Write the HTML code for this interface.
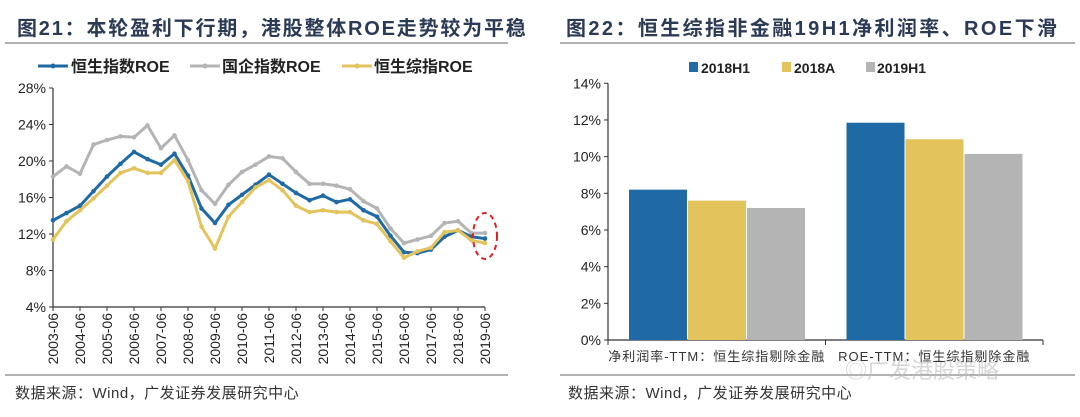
<!DOCTYPE html>
<html><head><meta charset="utf-8">
<style>
body{margin:0;background:#fff;width:1080px;height:417px;overflow:hidden}
svg{display:block;font-family:"Liberation Sans","Noto Sans CJK SC",sans-serif}
</style></head>
<body>
<svg id="root" width="1080" height="417" viewBox="0 0 1080 417">
<g>
 <text x="17" y="35" font-size="20" fill="#2b3a55" font-weight="bold" letter-spacing="1.8">图21：本轮盈利下行期，港股整体ROE走势较为平稳</text>
 <line x1="5" y1="43" x2="508" y2="43" stroke="#999" stroke-width="1.5"/>
 <line x1="5" y1="375" x2="508" y2="375" stroke="#999" stroke-width="1.5"/>
 <text x="15" y="398" font-size="15" fill="#333" letter-spacing="0.5">数据来源：Wind，广发证券发展研究中心</text>
 <g>
  <g><line x1="38" y1="66" x2="68" y2="66" stroke="#1f6aa5" stroke-width="3"/><circle cx="53" cy="66" r="2.5" fill="#1f6aa5"/><text x="71" y="72" font-size="16" font-weight="bold" fill="#222">恒生指数ROE</text></g>
  <g><line x1="190" y1="66" x2="220" y2="66" stroke="#b4b4b4" stroke-width="3"/><circle cx="205" cy="66" r="2.5" fill="#b4b4b4"/><text x="222" y="72" font-size="16" font-weight="bold" fill="#222">国企指数ROE</text></g>
  <g><line x1="342" y1="66" x2="372" y2="66" stroke="#e2c35c" stroke-width="3"/><circle cx="357" cy="66" r="2.5" fill="#e2c35c"/><text x="374" y="72" font-size="16" font-weight="bold" fill="#222">恒生综指ROE</text></g>
 </g>
 <g id="lc"></g>
 <ellipse cx="485" cy="236" rx="12" ry="23" fill="none" stroke="#e02020" stroke-width="2" stroke-dasharray="5,4"/>
</g>
<g>
 <text x="566" y="35" font-size="20" fill="#2b3a55" font-weight="bold" letter-spacing="2.4">图22：恒生综指非金融19H1净利润率、ROE下滑</text>
 <line x1="560" y1="43" x2="1075" y2="43" stroke="#999" stroke-width="1.5"/>
 <line x1="560" y1="375" x2="1075" y2="375" stroke="#999" stroke-width="1.5"/>
 <text x="568" y="398" font-size="15" fill="#333" letter-spacing="0.5">数据来源：Wind，广发证券发展研究中心</text>
 <text x="845" y="378" font-size="22" fill="#bbb" opacity="0.6">◎广发港股策略</text>
 <g>
  <g><rect x="689" y="62" width="9" height="10" fill="#1f6aa5"/><text x="701" y="73" font-size="14" font-weight="bold" fill="#222">2018H1</text></g>
  <g><rect x="782" y="62" width="9" height="10" fill="#e2c35c"/><text x="794" y="73" font-size="14" font-weight="bold" fill="#222">2018A</text></g>
  <g><rect x="866" y="62" width="9" height="10" fill="#b4b4b4"/><text x="877" y="73" font-size="14" font-weight="bold" fill="#222">2019H1</text></g>
 </g>
 <g id="bc"></g>
</g>
</svg>
<script>
const years=["2003-06","2004-06","2005-06","2006-06","2007-06","2008-06","2009-06","2010-06","2011-06","2012-06","2013-06","2014-06","2015-06","2016-06","2017-06","2018-06","2019-06"];
const yTicks=[4,8,12,16,20,24,28];
const hsi=[13.5,14.3,15.1,16.7,18.3,19.7,21.0,20.2,19.6,20.8,18.4,14.8,13.2,15.2,16.3,17.4,18.5,17.5,16.5,15.7,16.2,15.5,15.8,14.6,13.9,11.8,10.0,9.9,10.3,11.7,12.4,11.7,11.5];
const hscei=[18.3,19.4,18.6,21.8,22.3,22.7,22.6,23.9,21.4,22.8,20.1,16.8,15.3,17.4,18.8,19.6,20.5,20.3,18.8,17.5,17.5,17.3,16.9,15.6,14.8,12.6,11.0,11.4,11.8,13.2,13.4,12.1,12.1];
const hsci=[11.4,13.4,14.6,15.9,17.3,18.7,19.2,18.7,18.7,20.1,17.8,12.8,10.4,13.9,15.5,17.1,17.9,16.8,15.1,14.4,14.6,14.4,14.4,13.5,13.1,11.2,9.4,10.1,10.5,12.2,12.4,11.3,11.0];
const barCats=["净利润率-TTM：恒生综指剔除金融","ROE-TTM：恒生综指剔除金融"];
const bar2018H1=[8.2,11.85];
const bar2018A=[7.6,10.95];
const bar2019H1=[7.2,10.15];
const barTicks=[0,2,4,6,8,10,12,14];

const NS="http://www.w3.org/2000/svg";
function mk(p,t,a){const e=document.createElementNS(NS,t);for(const k in a)e.setAttribute(k,a[k]);p.appendChild(e);return e;}

const lc=document.getElementById('lc');
const X0=53,X1=485,Y0=307,Y1=88;
const xs=i=>X0+(X1-X0)*i/(hsi.length-1);
const ys=v=>Y0-(v-4)/(28-4)*(Y0-Y1);
const ax=mk(lc,'line',{x1:X0,y1:Y1,x2:X0,y2:Y0,stroke:'#333','stroke-width':1.2});


const bx=mk(lc,'line',{x1:X0,y1:Y0,x2:X1,y2:Y0,stroke:'#333','stroke-width':1.2});


yTicks.forEach(v=>{
 mk(lc,'line',{x1:X0-4,y1:ys(v),x2:X0,y2:ys(v),stroke:'#333'});
 const t=mk(lc,'text',{x:X0-7,y:ys(v)+5,'font-size':14,'text-anchor':'end',fill:'#222'});t.textContent=v+'%';
 
 
});
years.forEach((y,i)=>{
 const x=xs(i*2);
 mk(lc,'line',{x1:x,y1:Y0,x2:x,y2:Y0+4,stroke:'#333'});
 const t=mk(lc,'text',{x:0,y:0,'font-size':14,'text-anchor':'end',fill:'#222',transform:`translate(${x+5},${Y0+6}) rotate(-90)`});t.textContent=y;
 
 
});
[[hscei,'#b4b4b4','line-hscei'],[hsi,'#1f6aa5','line-hsi'],[hsci,'#e2c35c','line-hsci']].forEach(([d,c,n])=>{
 const g=mk(lc,'g',{});
 
 
 mk(g,'polyline',{points:d.map((v,i)=>xs(i)+','+ys(v)).join(' '),fill:'none',stroke:c,'stroke-width':3,'stroke-linejoin':'round'});
 d.forEach((v,i)=>{const p=mk(g,'circle',{cx:xs(i),cy:ys(v),r:2.3,fill:c});
  
  });
});

const bc=document.getElementById('bc');
const BX0=608,BX1=1043,BY0=340,BY1=83.3;
const bys=v=>BY0-v/14*(BY0-BY1);
const by=mk(bc,'line',{x1:BX0,y1:BY1,x2:BX0,y2:BY0,stroke:'#333','stroke-width':1.2});


const bxa=mk(bc,'line',{x1:BX0,y1:BY0,x2:BX1,y2:BY0,stroke:'#333','stroke-width':1.2});


barTicks.forEach(v=>{
 mk(bc,'line',{x1:BX0-4,y1:bys(v),x2:BX0,y2:bys(v),stroke:'#333'});
 const t=mk(bc,'text',{x:BX0-7,y:bys(v)+5,'font-size':14,'text-anchor':'end',fill:'#222'});t.textContent=v+'%';
 
 
});
[BX0,(BX0+BX1)/2,BX1].forEach(x=>mk(bc,'line',{x1:x,y1:BY0,x2:x,y2:BY0+5,stroke:'#333'}));
const gw=(BX1-BX0)/barCats.length, bw=58;
const series=[[bar2018H1,'#1f6aa5'],[bar2018A,'#e2c35c'],[bar2019H1,'#b4b4b4']];
barCats.forEach((c,i)=>{
 const gx=BX0+gw*i+21;
 series.forEach(([d,col],j)=>{
  const r=mk(bc,'rect',{x:gx+j*59,y:bys(d[i]),width:bw,height:BY0-bys(d[i]),fill:col});
  
  
 });
 const t=mk(bc,'text',{x:BX0+gw*i+gw/2,y:361,'font-size':13,'text-anchor':'middle',fill:'#333','letter-spacing':1});t.textContent=c;
 
 
});
</script>
</body></html>
